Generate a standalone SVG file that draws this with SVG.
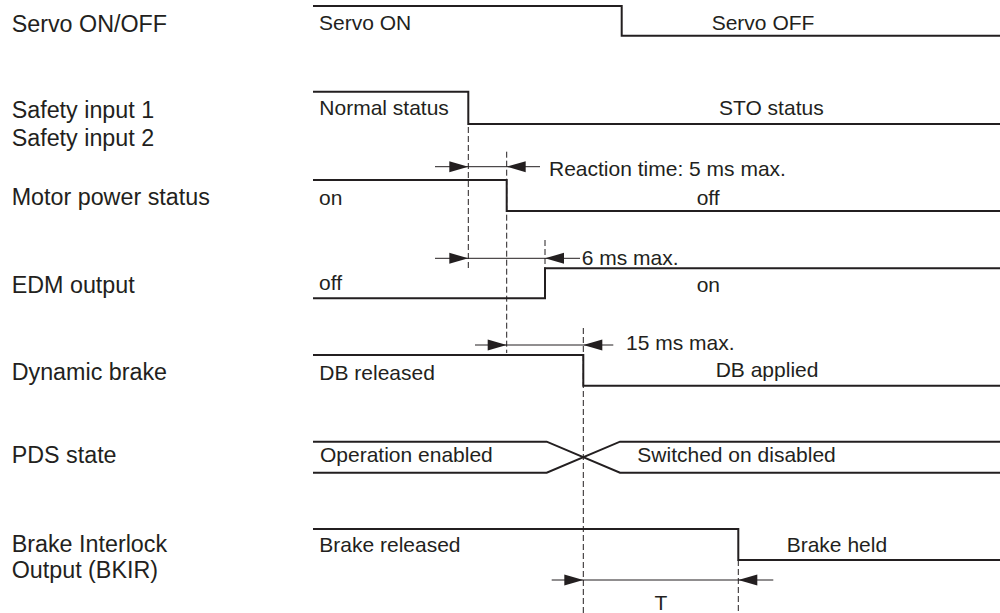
<svg xmlns="http://www.w3.org/2000/svg" width="1000" height="613" viewBox="0 0 1000 613">
<style>
.lbl{font-family:"Liberation Sans",Arial,sans-serif;font-size:23.3px;fill:#231f20}
.in{font-family:"Liberation Sans",Arial,sans-serif;font-size:21px;fill:#231f20}
.wave{fill:none;stroke:#231f20;stroke-width:2}
.dim{fill:none;stroke:#231f20;stroke-width:1}
.dash{fill:none;stroke:#231f20;stroke-width:1;stroke-dasharray:6 3}
.head{fill:#231f20}
</style>
<defs>
<path id="ar" d="M0,0 L-19,-5.5 L-19,5.5 Z"/>
<path id="al" d="M0,0 L19,-5.5 L19,5.5 Z"/>
</defs>
<rect width="1000" height="613" fill="#ffffff"/>

<g id="servo">
<text class="lbl" x="11.7" y="32">Servo ON/OFF</text>
<path class="wave" d="M313,6 H621.7 V35.7 H1000"/>
<text class="in" x="319" y="30">Servo ON</text>
<text class="in" x="711.7" y="30">Servo OFF</text>
</g>

<g id="safety">
<text class="lbl" x="11.7" y="118.3">Safety input 1</text>
<text class="lbl" x="11.7" y="145.7">Safety input 2</text>
<path class="wave" d="M313,91.7 H468.3 V124 H1000"/>
<text class="in" x="319.3" y="115">Normal status</text>
<text class="in" x="719" y="115">STO status</text>
</g>

<g id="motor">
<text class="lbl" x="11.7" y="205">Motor power status</text>
<path class="wave" d="M313,180 H506.7 V211 H1000"/>
<text class="in" x="319" y="205">on</text>
<text class="in" x="696.7" y="205">off</text>
</g>

<g id="edm">
<text class="lbl" x="11.7" y="293.3">EDM output</text>
<path class="wave" d="M313,298.3 H545 V268.3 H1000"/>
<text class="in" x="319" y="290">off</text>
<text class="in" x="696.7" y="291.7">on</text>
</g>

<g id="db">
<text class="lbl" x="11.7" y="380">Dynamic brake</text>
<path class="wave" d="M313,355 H583.3 V385.7 H1000"/>
<text class="in" x="319.3" y="380">DB released</text>
<text class="in" x="715.7" y="377.3">DB applied</text>
</g>

<g id="pds">
<text class="lbl" x="11.7" y="463.3">PDS state</text>
<path class="wave" d="M313,441.7 H546.7 L620,472.7 H1000"/>
<path class="wave" d="M313,472.7 H546.7 L620,441.7 H1000"/>
<text class="in" x="320" y="462">Operation enabled</text>
<text class="in" x="637.3" y="462">Switched on disabled</text>
</g>

<g id="bkir">
<text class="lbl" x="11.7" y="551.7">Brake Interlock</text>
<text class="lbl" x="11.7" y="578.3">Output (BKIR)</text>
<path class="wave" d="M313,529 H738.3 V560 H1000"/>
<text class="in" x="319.3" y="551.7">Brake released</text>
<text class="in" x="786.7" y="551.7">Brake held</text>
</g>

<g id="connectors">
<line class="dash" x1="468.3" y1="127" x2="468.3" y2="270"/>
<line class="dash" x1="506.7" y1="151.7" x2="506.7" y2="353"/>
<line class="dash" x1="545" y1="240" x2="545" y2="268"/>
<line class="dash" x1="583.3" y1="328" x2="583.3" y2="613"/>
<line class="dash" x1="738.3" y1="560" x2="738.3" y2="613"/>

<line class="dim" x1="435" y1="166.7" x2="540" y2="166.7"/>
<use href="#ar" class="head" x="468.3" y="166.7"/>
<use href="#al" class="head" x="506.7" y="166.7"/>
<text class="in" x="549" y="175.7">Reaction time: 5 ms max.</text>

<line class="dim" x1="435" y1="258.3" x2="580" y2="258.3"/>
<use href="#ar" class="head" x="468.3" y="258.3"/>
<use href="#al" class="head" x="545" y="258.3"/>
<text class="in" x="581.7" y="265">6 ms max.</text>

<line class="dim" x1="475" y1="345" x2="613.3" y2="345"/>
<use href="#ar" class="head" x="506.7" y="345"/>
<use href="#al" class="head" x="583.3" y="345"/>
<text class="in" x="626" y="350">15 ms max.</text>

<line class="dim" x1="551.7" y1="580" x2="773.3" y2="580"/>
<use href="#ar" class="head" x="583.3" y="580"/>
<use href="#al" class="head" x="738.3" y="580"/>
<text class="in" x="661" y="610" text-anchor="middle">T</text>
</g>
</svg>
